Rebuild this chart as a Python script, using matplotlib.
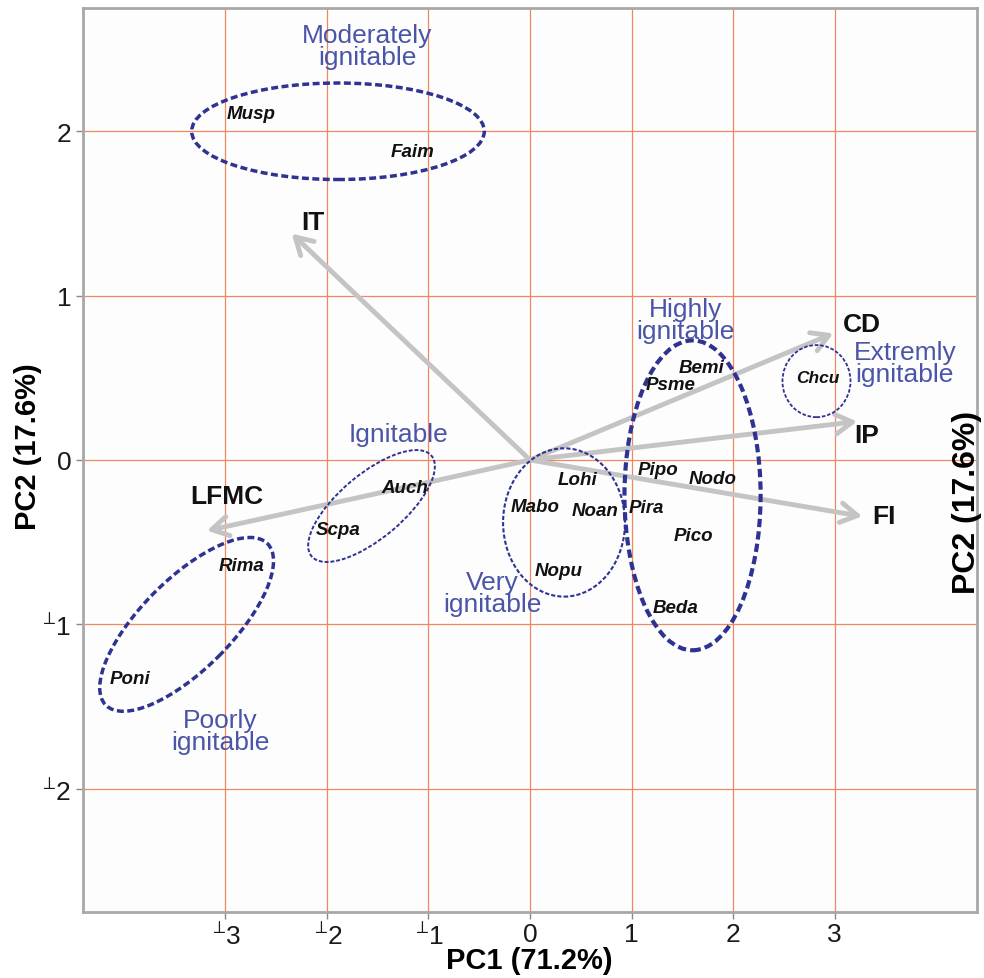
import matplotlib.pyplot as plt
from matplotlib.patches import Ellipse
from matplotlib.transforms import Affine2D

plt.rcParams['font.family'] = ['Liberation Sans', 'DejaVu Sans']
plt.rcParams['mathtext.fontset'] = 'dejavusans'

# species scores (PC1, PC2)
species = ['Musp', 'Faim', 'Auch', 'Scpa', 'Rima', 'Poni', 'Lohi', 'Mabo', 'Noan',
           'Nopu', 'Bemi', 'Psme', 'Pipo', 'Nodo', 'Pira', 'Pico', 'Beda', 'Chcu']
sp_x = [-2.74, -1.16, -1.23, -1.89, -2.84, -3.94, 0.47, 0.05, 0.64,
        0.28, 1.69, 1.38, 1.26, 1.80, 1.15, 1.61, 1.43, 2.83]
sp_y = [2.11, 1.875, -0.17, -0.42, -0.64, -1.33, -0.12, -0.28, -0.31,
        -0.67, 0.56, 0.46, -0.06, -0.11, -0.29, -0.46, -0.90, 0.50]

# variable loadings (arrow tips) and label positions
variables = ['IT', 'CD', 'IP', 'FI', 'LFMC']
var_x = [-2.345, 2.985, 3.22, 3.27, -3.18]
var_y = [1.377, 0.77, 0.234, -0.343, -0.43]
var_lx = [-2.14, 3.27, 3.31, 3.48, -2.985]
var_ly = [1.45, 0.825, 0.15, -0.34, -0.216]

# ignitability groups: ellipse centre, width/height (PC1 units), angle, line width
groups = ['Moderately\nignitable', 'Ignitable', 'Poorly\nignitable',
          'Very\nignitable', 'Highly\nignitable', 'Extremly\nignitable']
grp_cx = [-1.89, -1.56, -3.38, 0.335, 1.60, 2.82]
grp_cy = [2.0, -0.28, -1.0, -0.38, -0.215, 0.48]
grp_w = [2.88, 1.54, 2.25, 1.20, 1.34, 0.67]
grp_h = [0.95, 0.63, 0.89, 1.46, 3.05, 0.71]
grp_ang = [0, 40, 45, 0, 0, 0]
grp_lw = [2.5, 1.4, 2.5, 1.5, 3.0, 1.3]
grp_lx = [-1.60, -1.29, -3.05, -0.37, 1.53, 3.69]
grp_ly = [2.52, 0.16, -1.65, -0.81, 0.85, 0.59]

xticks = [-3, -2, -1, 0, 1, 2, 3]
yticks = [-2, -1, 0, 1, 2]
xlim = (-4.4, 4.4)
ylim = (-2.75, 2.75)


def tick_label(v):
    if v < 0:
        return r'$^{\perp}\!$' + str(-v)
    return str(v)


fig = plt.figure(figsize=(9.84, 9.79), dpi=100)
pos = [83 / 984, 66 / 979, 894 / 984, 904 / 979]
ax = fig.add_axes(pos)
ax.set_facecolor('#fdfdfd')
ax.set_xlim(*xlim)
ax.set_ylim(*ylim)

ax.set_xticks(xticks)
ax.set_yticks(yticks)
ax.set_xticklabels([tick_label(v) for v in xticks])
ax.set_yticklabels([tick_label(v) for v in yticks])
ax.tick_params(labelsize=19, colors='#888888', labelcolor='#1a1a1a', length=5, width=1)
ax.tick_params(axis='x', pad=2)
ax.grid(True, color='#f2865e', lw=0.9, zorder=0)
ax.set_axisbelow(True)
for sp in ax.spines.values():
    sp.set_color('#a8a8a8')
    sp.set_linewidth(2)

# aspect factor so ellipses are drawn in screen-proportional units
k = (pos[3] * 9.79 / (ylim[1] - ylim[0])) / (pos[2] * 9.84 / (xlim[1] - xlim[0]))
etrans = Affine2D().scale(1, 1 / k) + ax.transData

# loadings arrows
for name, x, y, lx, ly in zip(variables, var_x, var_y, var_lx, var_ly):
    ax.annotate('', xy=(x, y), xytext=(0, 0),
                arrowprops=dict(arrowstyle='->,head_length=0.6,head_width=0.35',
                                color='#c4c4c4', lw=3.5, shrinkA=0, shrinkB=0,
                                mutation_scale=20), zorder=2)
    ax.text(lx, ly, name, fontsize=19, fontweight='bold', ha='center', va='center',
            color='#111111', zorder=5)

# group ellipses and labels
for g, cx, cy, w, h, a, lw, lx, ly in zip(groups, grp_cx, grp_cy, grp_w, grp_h,
                                          grp_ang, grp_lw, grp_lx, grp_ly):
    e = Ellipse((cx, cy * k), w, h, angle=a, transform=etrans, fill=False,
                edgecolor='#2e3391', lw=lw, linestyle=(0, (2, 1)), zorder=3)
    ax.add_patch(e)
    ax.text(lx, ly, g, fontsize=19, color='#4b55a8', ha='center', va='center',
            linespacing=0.88, zorder=5)

# species labels
for name, x, y in zip(species, sp_x, sp_y):
    ax.text(x, y, name, fontsize=13.5 if name != 'Chcu' else 12.5, fontweight='bold',
            fontstyle='italic', ha='center', va='center', color='#111111', zorder=6)

fig.text(529 / 984, 1 - 961 / 979, 'PC1 (71.2%)', fontsize=21, fontweight='bold',
         ha='center', va='center')
fig.text(28 / 984, 1 - 447 / 979, 'PC2 (17.6%)', fontsize=21, fontweight='bold',
         ha='center', va='center', rotation=90)
fig.text(967 / 984, 1 - 502 / 979, 'PC2 (17.6%)', fontsize=23, fontweight='bold',
         ha='center', va='center', rotation=90)

fig.savefig('out.png', dpi=100)
